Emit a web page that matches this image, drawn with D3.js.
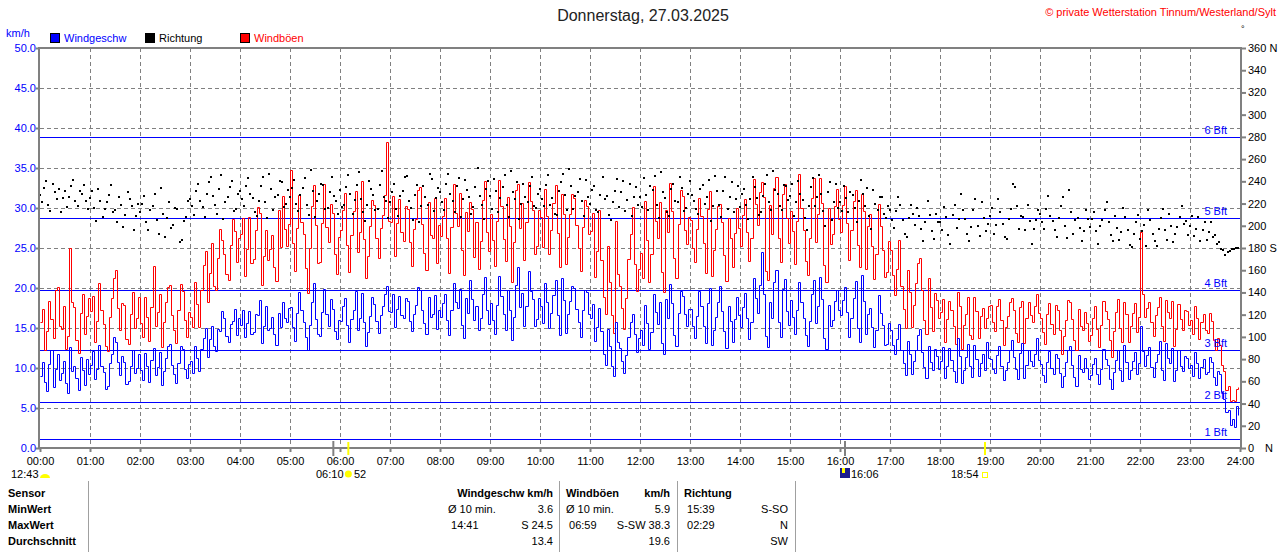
<!DOCTYPE html>
<html>
<head>
<meta charset="utf-8">
<script src="https://cdn.jsdelivr.net/npm/d3@7"></script>
<style>
  body { margin: 0; background: #fff; }
  svg { display: block; font-family: Arial, "Liberation Sans", sans-serif; }
</style>
</head>
<body>
<svg id="chart" width="1280" height="552"></svg>
<script>
// 2.5-minute values, 00:00 .. 23:57 (one row per hour)
const speed = [
  9.0,10.7,8.2,7.1,10.5,12.3,7.6,9.9,11.8,8.5,9.4,10.9,8.1,6.9,12.6,9.6,10.2,8.8,7.3,11.4,9.8,7.9,11.1,9.3,
  10.4,12.1,8.6,9.9,12.9,10.3,9.5,7.4,7.8,10.6,11.7,13.9,13.3,10.8,9.1,11.5,10.8,8.0,8.4,10.2,12.2,9.4,10.0,11.8,
  9.7,8.5,11.9,10.2,8.3,11.0,12.5,9.1,10.1,12.0,7.9,9.6,11.3,12.8,13.0,10.4,9.2,8.1,10.6,12.7,12.4,9.9,8.8,10.5,
  10.9,9.4,12.7,11.2,9.6,12.4,13.8,15.0,11.4,13.6,15.2,12.8,12.1,14.9,14.6,17.1,16.3,14.0,13.2,15.5,15.9,17.4,14.1,16.2,
  15.4,17.3,13.9,15.6,17.1,14.2,14.5,16.8,16.6,18.5,13.1,15.3,17.8,14.7,15.0,16.4,14.2,12.9,16.9,15.1,18.2,16.3,15.7,17.5,
  17.6,15.1,13.4,16.9,19.5,17.2,15.8,13.9,12.3,15.4,18.3,20.6,16.1,14.3,14.0,17.0,19.9,16.8,15.2,18.6,17.4,14.6,13.6,16.0,
  15.9,17.8,18.7,15.4,13.2,16.1,17.3,19.6,14.8,16.2,19.4,15.7,12.7,14.5,16.5,18.9,18.0,15.9,14.4,16.6,17.7,19.2,20.3,17.1,
  17.0,19.3,15.1,17.4,19.0,16.6,16.2,18.8,18.4,15.9,14.6,16.7,17.9,20.1,19.7,17.2,15.6,14.2,18.9,16.4,16.8,19.1,14.9,17.3,
  16.4,18.1,19.2,16.0,14.1,17.2,20.6,18.3,17.5,19.9,15.4,13.8,18.8,16.9,21.0,18.6,16.0,17.7,14.7,16.3,19.3,21.4,17.2,15.5,
  18.1,16.0,14.3,17.9,21.5,19.0,16.7,14.8,19.8,17.3,13.5,16.4,20.4,22.6,17.6,19.4,15.3,17.8,22.1,19.6,18.6,15.2,16.1,18.7,
  17.8,15.6,20.6,18.2,15.0,16.9,19.1,21.0,16.6,14.1,21.2,18.5,14.4,16.7,18.4,20.3,20.0,17.4,15.8,13.9,17.3,19.7,19.5,16.8,
  16.2,18.0,13.4,15.1,17.5,14.6,11.8,10.4,14.9,12.7,10.3,9.0,15.7,13.3,12.5,10.9,9.4,11.6,13.9,15.8,16.8,14.2,12.0,13.7,
  14.7,12.9,17.9,15.6,12.4,14.5,19.3,17.0,15.5,18.2,13.1,11.8,18.6,16.3,20.5,18.1,14.1,12.8,16.9,19.6,19.0,16.7,15.2,17.4,
  17.4,15.2,13.8,16.5,19.6,17.7,15.3,13.1,18.1,20.0,12.9,14.8,16.4,18.3,20.2,17.1,14.6,12.5,17.8,15.9,13.2,16.1,18.9,16.6,
  15.1,17.6,19.4,16.3,13.6,15.8,21.3,18.7,16.9,20.4,24.5,19.2,14.0,12.6,18.3,16.2,20.8,22.3,15.7,13.9,19.9,21.1,17.1,15.4,
  18.5,16.4,14.2,17.3,20.7,18.2,16.3,14.1,12.8,15.9,19.2,21.0,15.6,17.7,21.4,18.6,13.7,12.4,17.9,15.3,16.0,18.4,19.8,17.2,
  16.6,18.5,20.1,17.0,13.9,16.2,18.7,20.9,15.0,13.3,21.6,18.4,14.3,16.8,17.5,15.1,12.6,14.7,19.1,16.9,15.4,12.9,13.0,15.6,
  14.8,12.9,11.7,13.6,15.5,12.3,10.6,9.1,13.4,11.8,9.3,10.9,12.2,14.1,14.9,12.0,10.1,8.7,12.8,10.7,9.8,12.4,11.5,9.9,
  10.9,12.6,8.7,10.2,12.5,11.0,9.6,8.2,13.7,11.5,8.1,9.8,11.4,13.0,10.3,8.9,12.9,11.1,9.0,10.6,11.8,9.7,13.2,11.3,
  11.1,9.9,9.4,11.6,12.7,10.3,8.5,9.7,10.7,12.2,13.5,11.4,9.9,8.6,11.9,13.1,8.8,10.4,12.3,10.9,10.2,11.7,13.8,11.0,
  10.5,9.1,8.3,10.7,12.1,10.0,9.2,11.8,11.3,9.4,7.6,9.0,10.8,12.2,12.8,10.4,8.9,7.8,11.6,9.9,9.5,11.2,10.0,8.6,
  9.1,10.5,11.2,9.3,8.0,9.9,12.4,11.1,10.4,8.6,7.4,9.5,11.0,12.3,9.7,8.4,12.9,10.8,8.6,9.8,10.9,12.0,9.3,10.6,
  15.3,12.1,10.2,11.6,12.6,10.1,8.9,10.7,11.7,13.4,9.8,8.5,13.1,11.2,10.6,12.5,8.4,9.7,12.2,10.3,9.6,11.5,11.3,10.0,
  10.4,9.0,12.0,10.6,8.8,10.1,11.1,9.3,9.5,11.4,10.8,8.9,7.9,9.6,9.2,7.0,6.1,4.5,4.8,2.9,3.6,2.6,5.2,4.1
];

const gusts = [
  15.8,17.4,12.2,14.6,18.4,16.1,13.7,19.8,20.1,15.3,14.9,17.7,12.4,14.0,25.0,18.3,17.6,13.5,11.9,16.9,19.2,14.2,16.5,18.7,
  17.1,19.0,13.2,15.9,20.6,17.3,15.5,12.8,12.1,16.4,18.8,21.2,22.3,17.5,14.7,18.1,17.9,13.6,13.0,16.7,19.5,15.0,16.2,18.9,
  15.6,13.9,18.9,16.4,13.4,17.6,22.7,15.2,17.0,19.3,12.6,15.8,18.2,20.1,20.4,16.6,14.8,13.1,17.3,20.5,19.6,16.0,13.9,17.0,
  16.4,15.1,20.7,18.0,15.1,19.8,22.9,24.6,18.3,21.9,25.6,20.3,19.7,23.8,27.4,26.0,24.2,21.7,21.0,25.4,28.6,27.1,23.3,26.2,
  26.8,28.7,21.5,24.9,28.9,23.1,23.6,27.3,30.1,29.4,20.4,24.0,27.2,23.5,24.9,26.6,22.6,20.9,29.8,25.1,31.5,27.4,25.3,28.0,
  34.8,25.6,22.1,27.5,31.6,28.3,26.7,22.5,19.4,25.0,30.2,32.9,27.9,23.1,23.3,28.1,33.0,27.6,25.8,30.5,29.4,24.2,21.7,26.4,
  27.3,29.8,31.9,25.4,22.0,26.6,29.6,32.1,24.5,27.0,33.4,26.1,21.2,24.0,27.8,31.0,30.4,26.2,23.7,27.5,29.1,31.6,38.3,28.4,
  28.2,31.5,24.0,28.1,31.1,27.0,25.9,30.3,29.9,25.7,22.8,27.4,28.6,32.2,32.6,28.0,24.4,22.3,30.7,26.6,26.3,31.3,23.1,27.9,
  26.5,29.0,31.3,26.2,21.9,27.6,33.0,29.4,27.7,31.9,24.8,21.6,29.5,27.1,30.8,29.9,23.9,28.3,22.4,25.9,31.0,33.4,27.0,24.6,
  29.2,26.0,22.7,28.4,33.5,30.2,26.1,23.4,31.4,27.8,20.8,25.7,32.2,33.0,27.5,30.6,23.5,28.2,33.2,30.9,29.7,24.3,25.2,29.8,
  28.9,25.1,32.4,29.0,24.3,27.2,30.6,32.9,26.9,22.6,31.8,29.3,23.0,26.4,29.3,31.7,31.2,27.9,25.0,22.1,27.6,31.0,30.3,26.8,
  27.1,29.4,21.4,24.6,29.8,23.5,18.9,16.8,25.3,20.7,16.6,14.4,28.4,21.8,20.2,17.5,14.9,18.7,23.6,26.8,30.1,23.0,19.6,22.4,
  24.4,21.3,30.9,26.0,20.8,24.2,32.7,28.4,26.2,30.8,22.0,19.5,29.8,27.0,33.1,29.6,23.8,21.2,28.0,32.3,31.5,27.3,25.5,28.9,
  28.5,25.0,23.2,27.4,31.3,29.0,25.6,21.9,29.9,32.1,21.5,24.7,27.4,30.2,30.5,28.3,24.1,20.9,28.8,26.2,22.6,26.9,30.0,27.5,
  25.2,29.1,31.1,27.0,23.4,26.2,33.6,30.5,27.9,32.0,33.2,31.4,22.1,21.0,30.4,26.8,32.5,33.9,26.3,23.2,31.8,33.0,28.7,25.6,
  29.6,27.1,23.0,28.4,34.2,30.0,27.3,23.4,21.6,26.3,31.2,33.7,25.8,29.2,33.8,30.6,22.9,20.7,30.0,25.5,26.7,30.2,32.4,28.6,
  27.0,30.4,32.8,28.1,23.5,27.3,30.9,32.2,25.4,22.6,31.7,29.6,22.4,27.8,29.2,25.2,21.1,24.3,30.5,27.7,24.7,21.4,22.0,25.9,
  24.8,21.6,19.1,22.4,26.0,20.3,17.4,15.0,22.2,19.5,15.1,17.9,20.6,23.1,23.7,19.8,16.0,14.2,21.3,17.6,14.6,19.4,18.5,16.2,
  17.0,18.6,13.3,16.1,18.4,17.2,15.2,13.0,19.5,17.8,12.4,15.4,16.8,18.9,14.1,13.6,18.9,17.1,13.8,16.5,17.5,15.0,16.3,17.7,
  17.9,15.8,14.6,17.7,18.6,16.0,12.9,15.1,16.5,18.3,18.8,17.3,14.4,13.2,17.6,18.4,13.1,16.2,18.2,16.6,15.7,17.8,19.3,16.9,
  16.3,14.5,13.0,16.8,18.1,15.5,14.2,17.9,17.2,14.7,11.8,14.0,16.0,18.5,18.3,16.1,13.5,12.3,17.4,15.2,14.8,17.0,15.6,13.4,
  14.1,16.3,17.7,14.9,12.6,15.4,18.4,17.1,16.1,13.5,11.4,14.6,17.0,18.6,15.0,13.3,18.2,16.8,13.2,15.3,16.9,18.1,14.5,16.4,
  27.0,19.2,16.4,17.5,18.3,15.8,14.0,16.6,17.6,18.9,15.3,13.4,18.5,17.0,16.2,18.4,12.8,14.9,18.0,16.1,14.7,17.3,17.1,15.4,
  16.0,14.3,17.8,16.2,13.6,15.7,16.7,14.8,14.4,16.9,15.9,13.5,12.2,13.8,12.9,10.4,9.6,7.2,7.8,5.9,6.0,5.9,7.4,7.6
];

const direction = [
  228,221,234,240,219,213,238,230,224,233,212,225,231,217,226,236,241,222,218,231,229,237,222,215,
  225,231,216,204,233,222,208,215,221,228,237,212,214,203,226,219,199,210,230,224,218,196,209,220,
  212,220,227,203,196,214,218,229,205,193,234,211,190,207,221,198,201,216,215,185,187,204,208,222,
  224,218,210,231,238,222,217,208,229,239,244,227,219,211,233,246,206,221,226,235,240,213,215,229,
  231,224,218,236,243,229,225,212,209,222,236,244,221,207,247,233,214,226,228,240,239,217,220,232,
  226,234,241,220,213,228,234,243,219,210,250,231,208,222,229,238,237,215,216,230,244,227,222,211,
  232,217,219,235,246,229,211,223,237,248,224,212,204,219,240,233,228,214,215,237,249,226,222,207,
  221,230,238,215,209,227,231,244,245,222,216,205,228,237,203,218,236,226,219,247,242,213,225,234,
  230,221,214,238,247,229,222,212,236,243,208,224,241,232,226,211,217,235,252,227,219,206,233,240,
  227,215,242,231,212,225,235,246,219,208,249,230,224,239,206,220,238,226,221,236,244,218,216,229,
  233,224,218,237,246,219,225,211,210,231,239,247,228,214,251,236,215,227,230,242,222,209,241,226,
  220,232,236,214,212,228,244,224,227,210,205,221,231,242,217,230,240,213,223,238,209,226,235,219,
  226,217,243,228,214,236,232,245,219,207,248,230,225,212,209,233,238,222,221,244,234,213,216,229,
  240,228,222,215,211,233,237,220,226,241,204,218,245,231,219,208,231,244,215,226,239,212,224,236,
  217,229,233,219,206,224,244,235,225,210,212,227,238,246,221,214,249,232,229,218,214,237,236,223,
  227,238,209,221,240,229,223,207,196,218,235,243,218,226,246,229,213,200,230,239,205,221,238,216,
  221,213,236,225,212,230,228,216,203,222,241,229,218,234,209,197,232,220,214,226,226,211,207,218,
  214,205,198,213,226,219,205,193,190,207,219,211,201,216,209,197,186,203,222,210,195,188,211,203,
  203,196,217,208,192,184,210,219,198,206,229,214,206,193,186,199,214,224,200,191,221,207,195,202,
  209,216,193,201,224,212,202,190,188,206,215,238,235,218,197,209,208,196,219,204,184,197,205,214,
  211,203,197,215,227,209,204,196,190,207,218,226,200,189,232,212,193,205,207,198,186,195,214,206,
  199,206,212,195,184,200,205,214,221,203,192,186,209,198,187,194,216,208,196,183,181,193,203,210,
  188,195,201,182,214,205,193,186,182,197,207,215,196,187,211,200,185,193,199,208,218,202,204,192,
  200,209,191,197,208,186,196,203,187,194,203,190,192,184,185,179,178,174,176,177,179,179,180,180
];

const hourLabels = ["00:00","01:00","02:00","03:00","04:00","05:00","06:00","07:00","08:00","09:00","10:00","11:00",
  "12:00","13:00","14:00","15:00","16:00","17:00","18:00","19:00","20:00","21:00","22:00","23:00","24:00"];
const speedTicks = [0,5,10,15,20,25,30,35,40,45,50];
const dirTicks = [0,20,40,60,80,100,120,140,160,180,200,220,240,260,280,300,320,340,360];
const dirTickNames = {360: "360 N", 180: "180 S"};
const bftLevels = [1.1, 5.8, 12.2, 19.8, 28.8, 38.9];
const bftLabels = ["1 Bft","2 Bft","3 Bft","4 Bft","5 Bft","6 Bft"];

// sun / moon events (minutes of day)
const grayMarks = [352, 966];
const yellowMarks = [370, 1134];

const statHeads = ["Sensor","MinWert","MaxWert","Durchschnitt"];
const speedStats = [["Ø 10 min.","3.6"],[" 14:41","S 24.5"],["","13.4"]];
const gustStats = [["Ø 10 min.","5.9"],[" 06:59","S-SW 38.3"],["","19.6"]];
const dirStats = [[" 15:39","S-SO"],[" 02:29","N"],["","SW"]];

const svg = d3.select("#chart");
const pL = 40, pR = 1240, pT = 48, pB = 448;
const grey = "#808080";

const x = d3.scaleLinear().domain([0, 1440]).range([pL, pR]);
const y = d3.scaleLinear().domain([0, 50]).range([pB, pT]);
const yDir = d3.scaleLinear().domain([0, 360]).range([pB, pT]);
const t = i => i * 2.5;
const px = v => Math.round(v) + 0.5;

// grid
const grid = svg.append("g").attr("stroke", grey).attr("stroke-dasharray", "4,3").attr("stroke-width", 1);
grid.selectAll("line.h").data(speedTicks.slice(1, -1)).join("line")
  .attr("x1", pL).attr("x2", pR)
  .attr("y1", d => px(y(d))).attr("y2", d => px(y(d)));
grid.selectAll("line.v").data(d3.range(1, 24)).join("line")
  .attr("y1", pT).attr("y2", pB)
  .attr("x1", d => px(x(d * 60))).attr("x2", d => px(x(d * 60)));

// beaufort lines
svg.append("g").selectAll("line").data(bftLevels).join("line")
  .attr("x1", pL).attr("x2", pR)
  .attr("y1", d => px(y(d))).attr("y2", d => px(y(d)))
  .attr("stroke", "#0000ff").attr("stroke-width", 1);

// series
const gustLine = d3.line().x((d, i) => px(x(t(i)))).y(d => px(y(d))).curve(d3.curveStepAfter);
const speedLine = d3.line().x((d, i) => px(x(t(i)))).y(d => px(y(d))).curve(d3.curveStepAfter);
svg.append("path").datum(gusts).attr("d", gustLine)
  .attr("fill", "none").attr("stroke", "#ff0000").attr("stroke-width", 1);
svg.append("path").datum(speed).attr("d", speedLine)
  .attr("fill", "none").attr("stroke", "#0000ff").attr("stroke-width", 1);
svg.append("g").selectAll("rect").data(direction).join("rect")
  .attr("x", (d, i) => Math.round(x(t(i))) - 1).attr("y", d => Math.round(yDir(d)) - 1)
  .attr("width", 2).attr("height", 2).attr("fill", "#000");

svg.append("g").selectAll("text").data(bftLevels).join("text")
  .attr("x", pR - 13).attr("y", d => y(d) - 3)
  .attr("text-anchor", "end").attr("fill", "#0000ff").attr("font-size", 11)
  .text((d, i) => bftLabels[i]);

// frame
svg.append("rect").attr("x", pL - 1).attr("y", pT).attr("width", pR - pL + 2).attr("height", pB - pT)
  .attr("fill", "none").attr("stroke", grey).attr("stroke-width", 2);

// axes
const xAxis = d3.axisBottom(x).tickValues(d3.range(0, 1441, 60)).tickSize(4)
  .tickFormat((d, i) => hourLabels[i]);
const gx = svg.append("g").attr("transform", `translate(0,${pB})`).call(xAxis);
const yAxis = d3.axisLeft(y).tickValues(speedTicks).tickSize(4).tickFormat(d3.format(".1f"));
const gy = svg.append("g").attr("transform", `translate(${pL},0)`).call(yAxis);
const yAxisR = d3.axisRight(yDir).tickValues(dirTicks).tickSize(6)
  .tickFormat(d => dirTickNames[d] || d);
const gr = svg.append("g").attr("transform", `translate(${pR},0)`).call(yAxisR);
[gx, gy, gr].forEach(g => {
  g.select(".domain").remove();
  g.selectAll(".tick line").attr("stroke", grey).attr("stroke-width", 2);
  g.selectAll("text").attr("font-size", 11).attr("font-family", "Arial, 'Liberation Sans', sans-serif");
});
gx.selectAll("text").attr("fill", "#000").attr("dy", "0.9em");
gy.selectAll("text").attr("fill", "#0000ff").attr("x", -4);
gr.selectAll("text").attr("fill", "#000").attr("x", 8);
svg.append("text").attr("x", 1265).attr("y", 452).attr("font-size", 11).text("N");

// sun / moon marks
svg.selectAll("line.gm").data(grayMarks).join("line")
  .attr("x1", d => x(d)).attr("x2", d => x(d)).attr("y1", 441).attr("y2", 456)
  .attr("stroke", grey).attr("stroke-width", 2);
svg.selectAll("line.ym").data(yellowMarks).join("line")
  .attr("x1", d => x(d)).attr("x2", d => x(d)).attr("y1", 442).attr("y2", 455)
  .attr("stroke", "#ffff00").attr("stroke-width", 2);
const ev = svg.append("g").attr("font-size", 11);
ev.append("text").attr("x", 11).attr("y", 478).text("12:43");
ev.append("path").attr("d", "M40,478 A5,4 0 0 1 50,478 Z").attr("fill", "#ffff00");
ev.append("text").attr("x", 316).attr("y", 478).text("06:10");
ev.append("circle").attr("cx", x(yellowMarks[0])).attr("cy", 474).attr("r", 3.5).attr("fill", "#ffff00");
ev.append("text").attr("x", 354).attr("y", 478).text("52");
ev.append("rect").attr("x", 840).attr("y", 468).attr("width", 10).attr("height", 10).attr("fill", "#1a1a8c");
ev.append("rect").attr("x", 842).attr("y", 468).attr("width", 3).attr("height", 5).attr("fill", "#ffff00");
ev.append("text").attr("x", 851).attr("y", 478).text("16:06");
ev.append("text").attr("x", 951).attr("y", 478).text("18:54");
ev.append("rect").attr("x", 982.5).attr("y", 472.5).attr("width", 5).attr("height", 5)
  .attr("fill", "none").attr("stroke", "#ffff00");

// header
svg.append("text").attr("x", 643).attr("y", 21).attr("text-anchor", "middle")
  .attr("font-size", 16).attr("fill", "#222").text("Donnerstag, 27.03.2025");
svg.append("text").attr("x", 1276).attr("y", 16).attr("text-anchor", "end")
  .attr("font-size", 11).attr("fill", "#ff0000").text("© private Wetterstation Tinnum/Westerland/Sylt");
svg.append("text").attr("x", 1241).attr("y", 32).attr("font-size", 9).text("°");
svg.append("text").attr("x", 6).attr("y", 37).attr("font-size", 11).attr("fill", "#0000ff").text("km/h");

const legend = [["Windgeschw", "#0000ff", "#0000ff", 50], ["Richtung", "#000", "#000", 145], ["Windböen", "#ff0000", "#ff0000", 240]];
const lg = svg.append("g").selectAll("g").data(legend).join("g")
  .attr("transform", d => `translate(${d[3]},33)`);
lg.append("rect").attr("x", 0.5).attr("y", 0.5).attr("width", 9).attr("height", 9)
  .attr("fill", d => d[1]).attr("stroke", "#000");
lg.append("text").attr("x", 14).attr("y", 9).attr("font-size", 11).attr("fill", d => d[2]).text(d => d[0]);

// statistics table
const tbl = svg.append("g").attr("font-size", 11);
[88, 559, 677, 795].forEach(lx => {
  tbl.append("line").attr("x1", lx + 0.5).attr("x2", lx + 0.5).attr("y1", 481).attr("y2", 552)
    .attr("stroke", "#a0a0a0").attr("stroke-width", 1);
});
const rowY = [497, 513, 529, 545];
tbl.selectAll("text.h").data(statHeads).join("text")
  .attr("x", 8).attr("y", (d, i) => rowY[i]).attr("font-weight", "bold").text(d => d);
tbl.append("text").attr("x", 553).attr("y", rowY[0]).attr("text-anchor", "end").attr("font-weight", "bold").text("Windgeschw km/h");
tbl.append("text").attr("x", 566).attr("y", rowY[0]).attr("font-weight", "bold").text("Windböen");
tbl.append("text").attr("x", 670).attr("y", rowY[0]).attr("text-anchor", "end").attr("font-weight", "bold").text("km/h");
tbl.append("text").attr("x", 684).attr("y", rowY[0]).attr("font-weight", "bold").text("Richtung");
[[speedStats, 448, 553], [gustStats, 566, 670], [dirStats, 684, 788]].forEach(([rows, lx, rx]) => {
  rows.forEach((r, i) => {
    tbl.append("text").attr("x", lx).attr("y", rowY[i + 1]).attr("xml:space", "preserve").text(r[0]);
    tbl.append("text").attr("x", rx).attr("y", rowY[i + 1]).attr("text-anchor", "end").text(r[1]);
  });
});
</script>
</body>
</html>
